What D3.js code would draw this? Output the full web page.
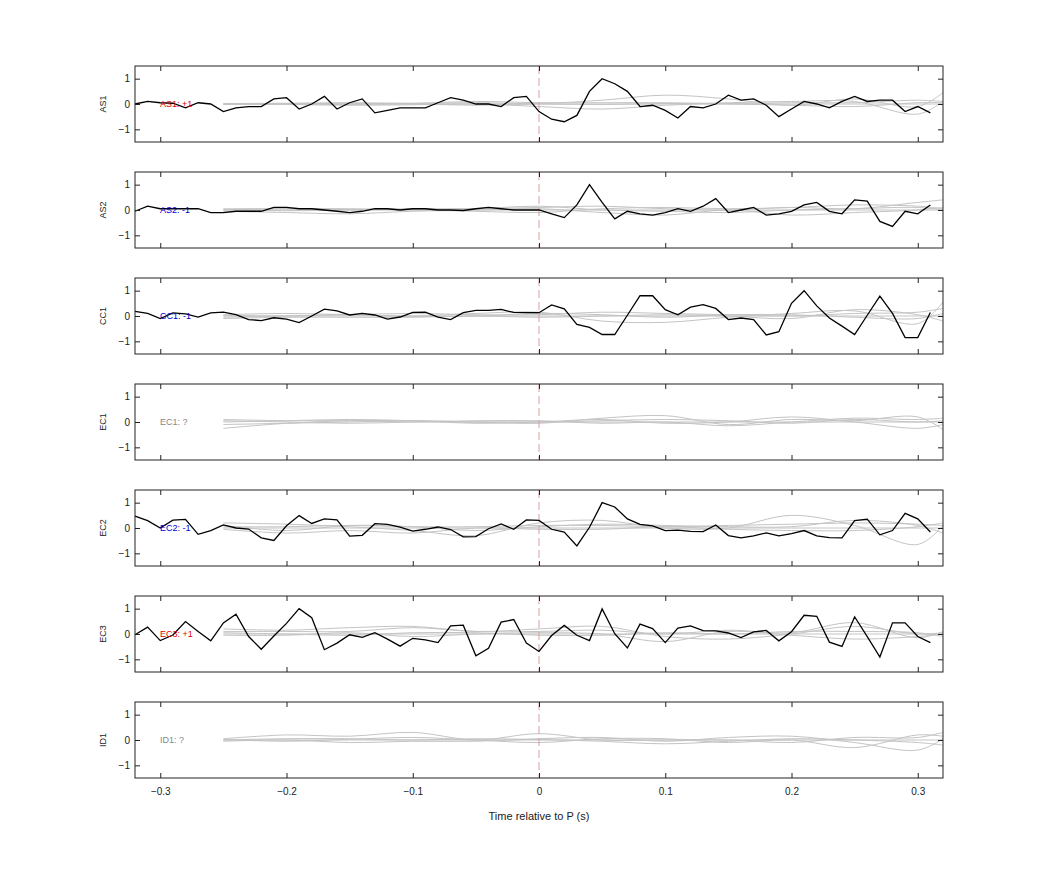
<!DOCTYPE html>
<html><head><meta charset="utf-8">
<script src="https://cdn.jsdelivr.net/npm/d3@7"></script>
<style>body{margin:0;background:#fff}svg{font-family:"Liberation Sans",Arial,sans-serif}</style>
</head><body>
<svg id="c" width="1042" height="875"></svg>
<script>
const stations = ["AS1","AS2","CC1","EC1","EC2","EC3","ID1"];
const labels = ["AS1: +1","AS2: -1","CC1: -1","EC1: ?","EC2: -1","EC3: +1","ID1: ?"];
const labelColors = ["#e00000","#0000d0","#0000d0","#888888","#0000d0","#e00000","#888888"];
const xTicks = [-0.3,-0.2,-0.1,0,0.1,0.2,0.3];
const yTicks = [-1,0,1];
// black trace sample times: -0.32 .. 0.31 step 0.01
const blackTimes = d3.range(64).map(i => +(-0.32 + i*0.01).toFixed(2));
const blackAS1 = [0,0.1,0.05,0.03,-0.15,0.05,0,-0.3,-0.15,-0.1,-0.1,0.2,0.25,-0.2,0,0.3,-0.2,0.05,0.2,-0.35,-0.25,-0.15,-0.15,-0.15,0.05,0.25,0.15,0,0,-0.1,0.25,0.3,-0.3,
 -0.6,-0.7,-0.45,0.5,1.0,0.8,0.5,-0.1,-0.05,-0.25,-0.55,-0.1,-0.15,0,0.35,0.15,0.2,-0.05,-0.5,-0.2,0.1,0,-0.15,0.1,0.3,0.1,0.15,0.15,-0.3,-0.1,-0.35];
const blackAS2 = [-0.05,0.15,0.05,0.05,0.05,0.05,-0.1,-0.1,-0.05,-0.05,-0.05,0.1,0.1,0.05,0.05,0,-0.05,-0.1,-0.05,0.05,0.05,0,0.05,0.05,0,0,-0.02,0.05,0.1,0.05,0,0,0,
 -0.15,-0.3,0.2,1.0,0.3,-0.35,-0.05,-0.15,-0.2,-0.1,0.05,-0.05,0.15,0.45,-0.1,0,0.1,-0.2,-0.15,-0.05,0.2,0.3,-0.05,-0.15,0.4,0.35,-0.45,-0.65,-0.05,-0.15,0.2];
const blackCC1 = [0.18,0.1,-0.1,0.12,0.08,-0.04,0.12,0.15,0.05,-0.14,-0.18,-0.07,-0.12,-0.26,0,0.27,0.2,0.04,0.1,0.04,-0.12,-0.04,0.14,0.15,-0.04,-0.14,0.13,0.22,0.22,0.26,0.14,0.13,0.13,
 0.44,0.28,-0.33,-0.45,-0.73,-0.73,0.03,0.8,0.8,0.25,0.05,0.35,0.45,0.3,-0.14,-0.08,-0.14,-0.75,-0.62,0.5,1.0,0.4,-0.08,-0.4,-0.73,0.03,0.78,0.1,-0.85,-0.85,0.14];
const blackEC2 = [0.47,0.29,0,0.31,0.34,-0.25,-0.1,0.12,0,-0.04,-0.39,-0.49,0.09,0.49,0.18,0.36,0.32,-0.32,-0.29,0.17,0.14,0.03,-0.12,-0.05,0.04,-0.06,-0.35,-0.34,-0.03,0.16,-0.05,0.32,0.3,
 -0.05,-0.16,-0.71,0.03,1.0,0.83,0.36,0.14,0.08,-0.1,-0.08,-0.13,-0.14,0.12,-0.3,-0.39,-0.31,-0.19,-0.31,-0.22,-0.1,-0.31,-0.38,-0.39,0.29,0.35,-0.27,-0.1,0.58,0.36,-0.16];
const blackEC3 = [-0.03,0.27,-0.26,-0.04,0.49,0.1,-0.27,0.44,0.78,-0.1,-0.6,-0.08,0.42,1.0,0.64,-0.62,-0.36,-0.03,-0.13,0.05,-0.2,-0.48,-0.17,-0.23,-0.34,0.32,0.35,-0.86,-0.56,0.47,0.57,-0.36,-0.69,
 -0.06,0.34,-0.05,-0.26,0.99,0.01,-0.55,0.39,0.21,-0.34,0.23,0.32,0.13,0.12,0.04,-0.14,0.08,0.14,-0.27,0.09,0.74,0.7,-0.32,-0.49,0.68,-0.1,-0.91,0.44,0.44,-0.1,-0.34];
const blackSeries = [blackAS1, blackAS2, blackCC1, null, blackEC2, blackEC3, null];
// gray (smooth) traces sample times
const grayTimes = [-0.25,-0.2,-0.15,-0.1,-0.05,0,0.05,0.1,0.15,0.2,0.25,0.3,0.32];
const grayAS1 = [
 [0,0,0,0,0,0,0,0,0,0,0,0,0],
 [0,0.02,0.03,0.02,0.05,0.02,0.15,0.35,0.2,-0.05,0.2,-0.1,0.45],
 [0,-0.02,-0.05,-0.03,0,-0.1,-0.2,-0.05,0.05,0.1,0.1,-0.4,0.1],
 [0.02,0.03,0.05,0.03,0.1,0.05,0.05,0.05,0.02,0.05,0.05,0.15,0.1],
 [-0.02,0,-0.02,0,-0.05,0,-0.02,0.02,0,-0.05,-0.1,0.05,0.05]];
const grayAS2 = [
 [0,0,0,0,0,0,0,0,0,0,0,0,0],
 [0.05,0.05,0.02,0.05,0.05,0.1,0.15,0.05,0,0.1,0.05,0.3,0.4],
 [-0.05,-0.1,-0.15,-0.05,0,0.05,-0.1,-0.2,0,-0.2,-0.1,0,0.1],
 [0,0.05,0.05,0,-0.05,-0.1,0.05,0.1,0.05,0.1,0.2,0.15,0.05],
 [0.02,-0.03,0,0.03,0.05,0.15,0,-0.05,-0.1,0,0.05,0.1,0]];
const grayCC1 = [
 [0,0,0,0,0,0,0,0,0,0,0,0,0],
 [0.05,0.1,0.05,0,0.1,0.15,-0.2,-0.25,-0.05,0.1,0.2,-0.3,0.55],
 [-0.05,0,0.05,0.1,0.05,0.05,0.15,0.1,0.05,0,0.1,0.15,0.3],
 [-0.1,-0.05,-0.05,-0.05,0,-0.05,0,0.05,0,-0.1,0.25,0.05,-0.2],
 [0.02,0,0.05,-0.02,0,0.1,0.05,-0.05,0.05,0.05,-0.05,-0.1,0.1]];
const grayEC1 = [
 [0.1,0.05,0.05,0,0,0,0,0,0,0,0,0,0],
 [-0.25,-0.05,0.05,0.05,0,-0.05,0.15,0.25,-0.1,0.1,0.05,0.2,-0.3],
 [0,0.05,0.1,0.05,-0.05,0,0.1,-0.05,0,0.2,0,-0.25,-0.1],
 [0.05,0,-0.05,0,0.05,0.05,-0.05,0,-0.15,0,0.15,0.1,0.15],
 [-0.1,-0.05,0,0.05,0,0,0.05,0.1,0.05,-0.05,0.1,0,0.05]];
const grayEC2 = [
 [0,0,0,0,0,0,0,0,0,0,0,0,0],
 [0.2,0.15,0.05,-0.1,-0.3,0.2,0.3,0,0,0.5,0.1,-0.65,0.1],
 [0.1,-0.1,0.1,0.05,-0.1,0.05,0.15,0.1,0.05,0.05,0.3,0.1,-0.2],
 [-0.05,-0.2,-0.1,-0.2,0,-0.05,-0.05,0.05,-0.05,-0.1,-0.1,0.05,0.2],
 [0.05,0.05,0.1,0.05,0.05,0.1,0.1,0.05,0.1,0.15,0.2,0.15,0.1]];
const grayEC3 = [
 [0,0,0,0,0,0,0,0,0,0,0,0,0],
 [0.2,0.15,0.25,0.3,0.1,0.2,0.3,-0.1,-0.2,0,0.3,0,0.05],
 [0.1,0.1,0.1,0.25,0.1,0.1,0.15,0,0.15,0.05,0.45,-0.15,0.1],
 [-0.05,-0.05,0.05,-0.1,0,0.05,0,-0.3,0.1,-0.05,-0.2,-0.1,0],
 [0.05,0,-0.05,0.05,0.05,-0.05,-0.05,0.05,0,0.1,0.1,0.05,-0.1]];
const grayID1 = [
 [0,0,0,0,0,0,0,0,0,0,0,0,0],
 [0.05,0.2,0.15,0.3,0,0.25,0,0,0,-0.1,0.1,0.1,0.3],
 [-0.05,0,-0.1,-0.05,-0.05,0.05,0.1,-0.05,0.1,0.15,-0.1,-0.4,0.05],
 [0,0.05,0.05,0,0.05,0.02,-0.05,-0.15,-0.05,0.05,0,-0.1,-0.2],
 [0.02,-0.05,0.03,0.1,0,-0.1,0.05,0.05,-0.1,0,-0.3,0.2,0.15]];
const graySeries = [grayAS1, grayAS2, grayCC1, grayEC1, grayEC2, grayEC3, grayID1];

const svg = d3.select("#c");
const L = 135, R = 943, H = 76, tops = [66,172,278,384,490,596,702];
const x = d3.scaleLinear().domain([-0.32,0.32]).range([L,R]);
const y = d3.scaleLinear().domain([-1.5,1.5]).range([H,0]);

stations.forEach((st,i) => {
  const g = svg.append("g").attr("transform",`translate(0,${tops[i]})`);
  const lineG = d3.line().x((d,j)=>x(grayTimes[j])).y(d=>y(d)).curve(d3.curveCatmullRom);
  graySeries[i].forEach(s => {
    g.append("path").attr("d", lineG(s)).attr("fill","none").attr("stroke","#c4c4c4").attr("stroke-width",1);
  });
  g.append("line").attr("x1",x(0)).attr("x2",x(0)).attr("y1",0).attr("y2",H)
    .attr("stroke","#d8a0a0").attr("stroke-dasharray","8,4").attr("stroke-width",1);
  if (blackSeries[i]) {
    const lineB = d3.line().x((d,j)=>x(blackTimes[j])).y(d=>y(d));
    g.append("path").attr("d", lineB(blackSeries[i])).attr("fill","none").attr("stroke","#000").attr("stroke-width",1.3);
  }
  g.append("text").attr("x",160).attr("y",y(0)+3).attr("font-size",9).attr("fill",labelColors[i]).text(labels[i]);
  const ax = d3.axisLeft(y).tickValues(yTicks).tickSize(-5).tickPadding(5).tickFormat(d3.format("d"));
  const gl = g.append("g").attr("transform",`translate(${L},0)`).call(ax);
  const gr = g.append("g").attr("transform",`translate(${R},0)`).call(d3.axisRight(y).tickValues(yTicks).tickSize(-5).tickFormat(""));
  const gt = g.append("g").call(d3.axisTop(x).tickValues(xTicks).tickSize(-5).tickFormat(""));
  const gb = g.append("g").attr("transform",`translate(0,${H})`).call(d3.axisBottom(x).tickValues(xTicks).tickSize(-5).tickPadding(10).tickFormat(i===6?d3.format(""):""));
  [gl,gr,gt,gb].forEach(a => { a.select(".domain").remove(); a.selectAll("line").attr("stroke","#222"); a.selectAll("text").attr("font-size",10).attr("fill","#222"); });
  g.append("rect").attr("x",L).attr("y",0).attr("width",R-L).attr("height",H).attr("fill","none").attr("stroke","#222").attr("stroke-width",1);
  g.append("text").attr("transform",`translate(106,${y(0)}) rotate(-90)`).attr("text-anchor","middle")
    .attr("font-size",9).attr("fill","#222").text(st);
});
svg.append("text").attr("x",x(0)).attr("y",820).attr("text-anchor","middle").attr("font-size",11).attr("fill","#222").text("Time relative to P (s)");
</script>
</body></html>
